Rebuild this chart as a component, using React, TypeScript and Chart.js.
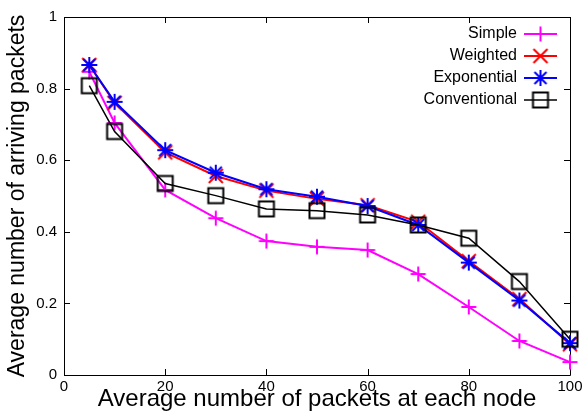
import React, { useEffect, useRef } from 'react';
import { Chart, registerables } from 'chart.js';

Chart.register(...registerables);

// ---- data ----
const xValues = [5, 10, 20, 30, 40, 50, 60, 70, 80, 90, 100];
const simple = [0.847, 0.704, 0.517, 0.438, 0.374, 0.358, 0.349, 0.282, 0.19, 0.095, 0.036];
const weighted = [0.866, 0.76, 0.622, 0.556, 0.515, 0.492, 0.474, 0.428, 0.318, 0.212, 0.086];
const exponential = [0.866, 0.763, 0.628, 0.565, 0.519, 0.498, 0.472, 0.419, 0.314, 0.208, 0.089];
const conventional = [0.808, 0.68, 0.535, 0.501, 0.464, 0.459, 0.447, 0.419, 0.382, 0.261, 0.1];
const seriesLabels = ['Simple', 'Weighted', 'Exponential', 'Conventional'];
const xTitle = 'Average number of packets at each node';
const yTitle = 'Average number of arriving packets';

const FONT = '"Liberation Sans", Arial, Helvetica, sans-serif';

function makeMarker(kind: string, color: string, lw: number): HTMLCanvasElement {
  const S = 24;
  const c = document.createElement('canvas');
  c.width = S;
  c.height = S;
  const g = c.getContext('2d') as CanvasRenderingContext2D;
  g.strokeStyle = color;
  g.lineWidth = lw;
  const m = S / 2;
  g.beginPath();
  if (kind === 'plus' || kind === 'star') {
    const h = kind === 'plus' ? 7.5 : 8;
    g.moveTo(m - h, m); g.lineTo(m + h, m);
    g.moveTo(m, m - h); g.lineTo(m, m + h);
  }
  if (kind === 'x' || kind === 'star') {
    const h = kind === 'x' ? 7 : 6;
    g.moveTo(m - h, m - h); g.lineTo(m + h, m + h);
    g.moveTo(m - h, m + h); g.lineTo(m + h, m - h);
  }
  if (kind === 'square') {
    g.rect(m - 7.5, m - 7.5, 15, 15);
  }
  g.stroke();
  return c;
}

const framePlugin = {
  id: 'gnuFrame',
  beforeDatasetsDraw(chart: any) {
    const { ctx, chartArea } = chart;
    const { left, right, top, bottom } = chartArea;
    const xs = chart.scales.x;
    const ys = chart.scales.y;
    ctx.save();
    ctx.strokeStyle = '#000';
    ctx.lineWidth = 1;
    ctx.beginPath();
    ctx.rect(Math.round(left) + 0.5, Math.round(top) + 0.5, Math.round(right - left), Math.round(bottom - top));
    const tl = 6;
    xs.ticks.forEach((t: any) => {
      const px = Math.round(xs.getPixelForValue(t.value)) + 0.5;
      ctx.moveTo(px, bottom); ctx.lineTo(px, bottom - tl);
      ctx.moveTo(px, top); ctx.lineTo(px, top + tl);
    });
    ys.ticks.forEach((t: any) => {
      const py = Math.round(ys.getPixelForValue(t.value)) + 0.5;
      ctx.moveTo(left, py); ctx.lineTo(left + tl, py);
      ctx.moveTo(right, py); ctx.lineTo(right - tl, py);
    });
    ctx.stroke();
    ctx.restore();
  },
};

const legendPlugin = {
  id: 'gnuLegend',
  afterDraw(chart: any) {
    const { ctx, chartArea } = chart;
    const textRight = chartArea.right - 53;
    const lineStart = chartArea.right - 46;
    const lineEnd = chartArea.right - 13;
    const mid = (lineStart + lineEnd) / 2;
    ctx.save();
    ctx.font = `16px ${FONT}`;
    ctx.textAlign = 'right';
    ctx.textBaseline = 'middle';
    chart.data.datasets.forEach((ds: any, i: number) => {
      const y = chartArea.top + 17 + i * 22;
      ctx.fillStyle = '#000';
      ctx.fillText(ds.label, textRight, y);
      ctx.strokeStyle = ds.borderColor;
      ctx.lineWidth = ds.borderWidth;
      ctx.beginPath();
      ctx.moveTo(lineStart, y);
      ctx.lineTo(lineEnd, y);
      ctx.stroke();
      const img = ds.pointStyle as HTMLCanvasElement;
      ctx.drawImage(img, mid - img.width / 2, y - img.height / 2);
    });
    ctx.restore();
  },
};

export default function App() {
  const ref = useRef<HTMLCanvasElement>(null);
  useEffect(() => {
    document.body.style.margin = '0';
    if (!ref.current) return;
    Chart.defaults.font.family = FONT;
    const mk = (ys: number[]) => xValues.map((x, i) => ({ x, y: ys[i] }));
    const specs = [
      { label: seriesLabels[0], data: simple, color: '#ff00ff', kind: 'plus', lw: 2, order: 3 },
      { label: seriesLabels[1], data: weighted, color: '#ff0000', kind: 'x', lw: 2, order: 2 },
      { label: seriesLabels[2], data: exponential, color: '#0000ff', kind: 'star', lw: 2, order: 1 },
      { label: seriesLabels[3], data: conventional, color: '#000000', kind: 'square', lw: 1.5, order: 0 },
    ];
    const datasets = specs.map((s) => ({
      label: s.label,
      data: mk(s.data),
      borderColor: s.color,
      backgroundColor: s.color,
      borderWidth: s.lw,
      pointStyle: makeMarker(s.kind, s.color, 2),
      pointRadius: 8,
      pointHoverRadius: 8,
      tension: 0,
      fill: false,
      clip: false as any,
      order: s.order,
    }));
    const chart = new Chart(ref.current, {
      type: 'line',
      data: { datasets },
      options: {
        animation: false,
        responsive: false,
        maintainAspectRatio: false,
        layout: { padding: { top: 17, right: 16, left: 0, bottom: 0 } },
        plugins: { legend: { display: false }, tooltip: { enabled: false } },
        scales: {
          x: {
            type: 'linear',
            min: 0,
            max: 100,
            grid: { display: false, drawTicks: false },
            border: { display: false },
            ticks: { stepSize: 20, color: '#000', font: { size: 15 }, padding: 3, maxRotation: 0 },
            title: { display: true, text: xTitle, color: '#000', font: { size: 24 }, padding: { top: 0, bottom: 4 } },
            afterFit: (s: any) => { s.height = 43; },
          },
          y: {
            type: 'linear',
            min: 0,
            max: 1,
            grid: { display: false, drawTicks: false },
            border: { display: false },
            ticks: {
              stepSize: 0.2,
              color: '#000',
              font: { size: 15 },
              padding: 7,
              callback: (v: any) => String(Math.round(Number(v) * 10) / 10),
            },
            title: { display: true, text: yTitle, color: '#000', font: { size: 23 }, padding: { top: 4, bottom: 0 } },
            afterFit: (s: any) => { s.width = 64; },
          },
        },
      },
      plugins: [framePlugin, legendPlugin],
    });
    return () => chart.destroy();
  }, []);
  return (
    <div style={{ position: 'absolute', left: 0, top: 0, width: 586, height: 418 }}>
      <canvas ref={ref} width={586} height={418} style={{ display: 'block' }} />
    </div>
  );
}
